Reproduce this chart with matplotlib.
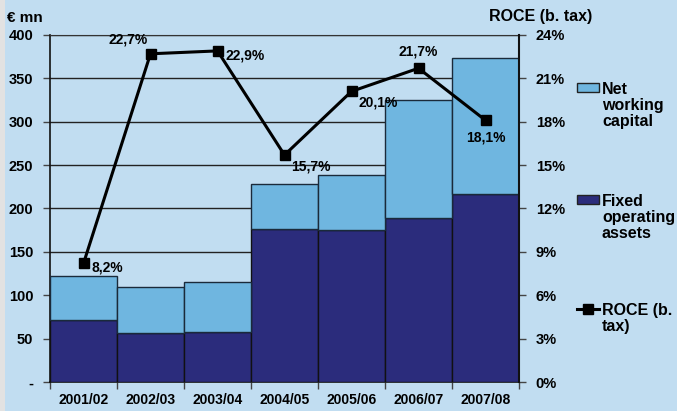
import matplotlib.pyplot as plt
import matplotlib.patches as mpatches
from matplotlib.lines import Line2D
import numpy as np

plt.rcParams['font.family'] = ['Liberation Sans', 'DejaVu Sans']
plt.rcParams['font.weight'] = 'bold'

years = ["2001/02", "2002/03", "2003/04", "2004/05", "2005/06", "2006/07", "2007/08"]
fixed_assets = [72, 56, 58, 176, 175, 189, 217]
net_working = [50, 53, 57, 52, 64, 136, 157]
roce = [8.2, 22.7, 22.9, 15.7, 20.1, 21.7, 18.1]
roce_labels = ["8,2%", "22,7%", "22,9%", "15,7%", "20,1%", "21,7%", "18,1%"]
left_ticks = [0, 50, 100, 150, 200, 250, 300, 350, 400]
left_labels = ["-", "50", "100", "150", "200", "250", "300", "350", "400"]
right_ticks = [0, 3, 6, 9, 12, 15, 18, 21, 24]

bg = "#C1DDF1"
dark = "#2B2C7C"
light = "#6FB6E0"

fig = plt.figure(figsize=(6.77, 4.11), dpi=100, facecolor=bg)
fig.patches.append(mpatches.Rectangle((0, 0), 5 / 677, 1, transform=fig.transFigure,
                                      facecolor="#E2E2E2", edgecolor="none"))
ax = fig.add_axes([50 / 677, 29 / 411, 469 / 677, 347 / 411])
ax.set_facecolor(bg)

x = np.arange(len(years))
ax.bar(x, fixed_assets, width=1.0, color=dark, edgecolor="#111111", linewidth=1, zorder=3)
ax.bar(x, net_working, bottom=fixed_assets, width=1.0, color=light,
       edgecolor="#1a2a3a", linewidth=1, zorder=3)

ax.set_xlim(-0.5, len(years) - 0.5)
ax.set_ylim(0, 400)
ax.set_yticks(left_ticks)
ax.set_yticklabels(left_labels)
ax.yaxis.grid(True, color="#222222", linewidth=1, zorder=0)
ax.set_axisbelow(True)
ax.set_xticks(np.arange(len(years) + 1) - 0.5)
ax.set_xticklabels([])
ax.set_xticks(x, minor=True)
ax.set_xticklabels(years, minor=True)
ax.tick_params(axis="x", which="minor", length=0, pad=8, labelsize=10)
ax.tick_params(axis="x", which="major", length=5, width=1, color="#444444")
ax.tick_params(axis="y", length=5, width=1, color="#444444", labelsize=10.5, pad=7)
for s in ["left", "bottom", "right"]:
    ax.spines[s].set_color("#111111")
    ax.spines[s].set_linewidth(1.2)
ax.spines["top"].set_color("#333333")

ax2 = ax.twinx()
ax2.plot(x, roce, color="black", linewidth=2.2, marker="s", markersize=7.5, zorder=5)
ax2.set_ylim(0, 24)
ax2.set_yticks(right_ticks)
ax2.set_yticklabels([f"{t}%" for t in right_ticks])
ax2.tick_params(axis="y", length=5, width=1, color="#444444", labelsize=10.5, pad=7)
ax2.spines["right"].set_color("#111111")
ax2.spines["right"].set_linewidth(1.5)
for s in ["left", "top", "bottom"]:
    ax2.spines[s].set_visible(False)

offsets = [(6, -3, "left", "center"), (-2, 5, "right", "bottom"), (6, -3, "left", "center"),
           (5, -3, "left", "top"), (5, -3, "left", "top"), (0, 7, "center", "bottom"),
           (0, -7, "center", "top")]
for xi, v, lab, (dx, dy, ha, va) in zip(x, roce, roce_labels, offsets):
    ax2.annotate(lab, (xi, v), xytext=(dx, dy), textcoords="offset points",
                 ha=ha, va=va, fontsize=10, fontweight="bold")

fig.text(7 / 677, 1 - 18 / 411, "€ mn", fontsize=11, fontweight="bold", va="center")
fig.text(592 / 677, 1 - 17 / 411, "ROCE (b. tax)", fontsize=11.5, fontweight="bold",
         va="center", ha="right")

# legend
lx0, lw, lh = 577 / 677, 22 / 677, 9 / 411
for ytop, col, lab in [(83, light, "Net\nworking\ncapital"),
                       (195, dark, "Fixed\noperating\nassets")]:
    fig.patches.append(mpatches.Rectangle((lx0, 1 - (ytop + 9) / 411), lw, lh,
                                          transform=fig.transFigure, facecolor=col,
                                          edgecolor="#222222", linewidth=1))
    fig.text(602 / 677, 1 - (ytop - 1) / 411, lab, fontsize=11.5, fontweight="bold",
             va="top", ha="left", linespacing=1.08)
fig.lines.append(Line2D([577 / 677, 599 / 677], [1 - 309 / 411] * 2, transform=fig.transFigure,
                        color="black", linewidth=2.2))
fig.lines.append(Line2D([588 / 677], [1 - 309 / 411], transform=fig.transFigure,
                        color="black", marker="s", markersize=7))
fig.text(602 / 677, 1 - 303 / 411, "ROCE (b.\ntax)", fontsize=11.5, fontweight="bold",
         va="top", ha="left", linespacing=1.08)

fig.savefig("out.png", dpi=100, facecolor=bg)
